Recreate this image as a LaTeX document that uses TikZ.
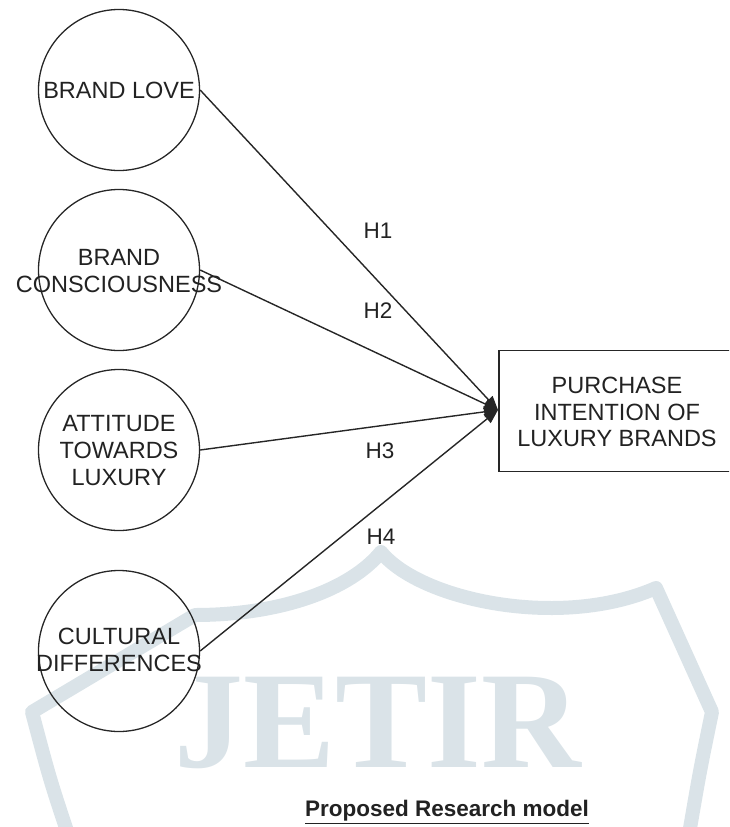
\documentclass[tikz,border=0pt]{standalone}
\usepackage{fontspec}
\setmainfont{Liberation Sans}
\newfontfamily\wmfont{Liberation Serif}
\usetikzlibrary{arrows.meta}
\definecolor{ink}{HTML}{222222}
\definecolor{wm}{RGB}{218,227,232}
\begin{document}
\begin{tikzpicture}[x=1pt,y=-1pt,
  lbl/.style={font=\fontsize{23.5}{27}\selectfont, text=ink, align=center, inner sep=0pt},
  construct/.style={circle, draw=black!85, line width=1.3pt, minimum size=161pt, inner sep=0pt},
  outcome/.style={rectangle, draw=black!85, line width=1.3pt, minimum width=236pt, minimum height=121pt, inner sep=0pt},
  path/.style={draw=black!85, line width=1.4pt, -{Triangle[length=14pt,width=11pt]}},
  hyp/.style={font=\fontsize{22.5}{26}\selectfont, text=ink, inner sep=0pt}]
\useasboundingbox (0,0) rectangle (729,827);
\clip (0,0) rectangle (729,827);
% watermark
\draw[wm, line width=14pt, line join=round]
  (70,840) .. controls (50,780) .. (32,712) -- (195,615)
  .. controls (280,615) and (350,590) .. (381,552)
  .. controls (420,600) and (560,630) .. (656,588)
  -- (712,712) .. controls (700,770) .. (688,840);
\node[font=\wmfont\bfseries\fontsize{138}{138}\selectfont, text=wm, inner sep=0pt] (wmtext) at (378,723) {JETIR};
% constructs
\node[construct] (c1) at (119,90) {};
\node[construct] (c2) at (119,270) {};
\node[construct] (c3) at (119,450) {};
\node[construct] (c4) at (119,651) {};
\node[lbl] (t1) at (119,90) {BRAND LOVE};
\node[lbl] (t2) at (119,271) {BRAND\\CONSCIOUSNESS};
\node[lbl] (t3) at (119,451) {ATTITUDE\\TOWARDS\\LUXURY};
\node[lbl] (t4) at (119,650) {CULTURAL\\DIFFERENCES};
% outcome
\node[outcome] (pi) at (617,411) {};
\node[lbl, font=\fontsize{23.5}{26.5}\selectfont] (pit) at (617,412) {PURCHASE\\INTENTION OF\\LUXURY BRANDS};
\coordinate (tip) at (498,410);
% paths
\draw[path] (c1.east) -- (tip);
\draw[path] (c2.east) -- (tip);
\draw[path] (c3.east) -- (tip);
\draw[path] (c4.east) -- (tip);
% hypotheses
\node[hyp] (h1) at (378,231) {H1};
\node[hyp] (h2) at (378,311) {H2};
\node[hyp] (h3) at (380,451) {H3};
\node[hyp] (h4) at (381,537) {H4};
% caption
\node[font=\bfseries\fontsize{22.5}{26}\selectfont, text=ink, inner sep=0pt] (cap) at (447,812) {\underline{Proposed Research model}};
\end{tikzpicture}
\end{document}
